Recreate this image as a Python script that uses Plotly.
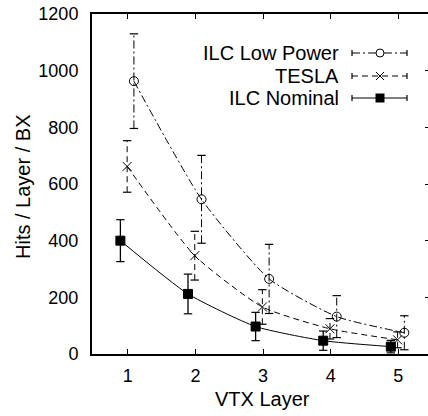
import plotly.graph_objects as go

# ---------------- data ----------------
layers = [1, 2, 3, 4, 5]
x_tick_labels = ["1", "2", "3", "4", "5"]
y_tick_values = [0, 200, 400, 600, 800, 1000, 1200]

series_names = ["ILC Low Power", "TESLA", "ILC Nominal"]
low_power = [963, 546, 265, 132, 75]
low_power_err = [167, 155, 122, 74, 60]
tesla = [662, 347, 166, 89, 50]
tesla_err = [91, 86, 61, 36, 28]
nominal = [400, 212, 97, 47, 26]
nominal_err = [74, 70, 50, 34, 22]

# ---------------- styles ----------------
W, H = 428, 416
ML, MR, MT, MB = 92, 0, 14, 62
FONT = "Liberation Sans, Arial, sans-serif"
FS_TICK = 18
FS_TEXT = 20
DASHDOT = "8px,3px,2px,3px"
DASHED = "6px,4px"

styles = {
    "ILC Low Power": dict(offset=0.09, dash=DASHDOT, symbol="circle-open", size=9, ebw=1),
    "TESLA": dict(offset=-0.01, dash=DASHED, symbol="x-thin-open", size=9, ebw=1),
    "ILC Nominal": dict(offset=-0.11, dash="solid", symbol="square", size=9, ebw=1.3),
}
values = {"ILC Low Power": (low_power, low_power_err),
          "TESLA": (tesla, tesla_err),
          "ILC Nominal": (nominal, nominal_err)}

fig = go.Figure()

for name in series_names:
    st = styles[name]
    ys, es = values[name]
    xs = [l + st["offset"] for l in layers]
    fig.add_trace(go.Scatter(x=xs, y=ys, mode="lines",
                             line=dict(color="black", width=1, dash=st["dash"],
                                       shape="spline", smoothing=0.55),
                             showlegend=False, hoverinfo="skip"))
    ex, ey = [], []
    for x, y, e in zip(xs, ys, es):
        ex += [x, x, None]
        ey += [y - e, y + e, None]
    fig.add_trace(go.Scatter(x=ex, y=ey, mode="lines",
                             line=dict(color="black", width=st["ebw"], dash=st["dash"]),
                             showlegend=False, hoverinfo="skip"))
    cx, cy = [], []
    for x, y, e in zip(xs, ys, es):
        cx += [x, x]
        cy += [y - e, y + e]
    fig.add_trace(go.Scatter(x=cx, y=cy, mode="markers",
                             marker=dict(symbol="line-ew", size=6, color="black",
                                         line=dict(color="black", width=1.2)),
                             showlegend=False, hoverinfo="skip"))
    fig.add_trace(go.Scatter(x=xs, y=ys, mode="markers", name=name,
                             marker=dict(symbol=st["symbol"], size=st["size"], color="black",
                                         line=dict(color="black", width=1)),
                             showlegend=False))

fig.add_trace(go.Scatter(x=[None], y=[None], yaxis="y2", showlegend=False, hoverinfo="skip"))

# ---------------- manual legend (text left, sample right) ----------------
PW = W - ML - MR
PH = H - MT - MB


def px(xp):
    return (xp - ML) / PW


def py(yp):
    return (H - MB - yp) / PH


shapes = []
annotations = []
row_y = [53, 76, 98]
text_right = 341
s_x0, s_x1, s_mid = 352, 407, 380
for name, yy in zip(series_names, row_y):
    st = styles[name]
    annotations.append(dict(text=name, x=px(text_right), y=py(yy), xref="paper", yref="paper",
                            xanchor="right", yanchor="middle", showarrow=False,
                            font=dict(family=FONT, size=FS_TEXT, color="black")))
    shapes.append(dict(type="line", xref="paper", yref="paper",
                       x0=px(s_x0), x1=px(s_x1), y0=py(yy), y1=py(yy),
                       line=dict(color="black", width=1, dash=st["dash"])))
    for cxp in (s_x0, s_x1):
        shapes.append(dict(type="line", xref="paper", yref="paper",
                           x0=px(cxp), x1=px(cxp), y0=py(yy - 3), y1=py(yy + 3),
                           line=dict(color="black", width=1.2)))
    if st["symbol"] == "circle-open":
        shapes.append(dict(type="circle", xref="paper", yref="paper",
                           x0=px(s_mid - 4), x1=px(s_mid + 4), y0=py(yy - 4), y1=py(yy + 4),
                           line=dict(color="black", width=1), fillcolor="white"))
    elif st["symbol"] == "square":
        shapes.append(dict(type="rect", xref="paper", yref="paper",
                           x0=px(s_mid - 4.5), x1=px(s_mid + 4.5), y0=py(yy - 4.5), y1=py(yy + 4.5),
                           line=dict(color="black", width=0), fillcolor="black"))
    else:
        for d in (1, -1):
            shapes.append(dict(type="line", xref="paper", yref="paper",
                               x0=px(s_mid - 4), x1=px(s_mid + 4),
                               y0=py(yy - 4 * d), y1=py(yy + 4 * d),
                               line=dict(color="black", width=1)))

annotations.append(dict(text="VTX Layer", x=px(262.5), y=py(399), xref="paper", yref="paper",
                        xanchor="center", yanchor="middle", showarrow=False,
                        font=dict(family=FONT, size=FS_TEXT, color="black")))
annotations.append(dict(text="Hits / Layer / BX", x=px(23), y=py(187), xref="paper", yref="paper",
                        xanchor="center", yanchor="middle", showarrow=False, textangle=-90,
                        font=dict(family=FONT, size=FS_TEXT, color="black")))

fig.update_layout(
    width=W, height=H,
    margin=dict(l=ML, r=MR, t=MT, b=MB, pad=0),
    paper_bgcolor="white", plot_bgcolor="white",
    font=dict(family=FONT, size=FS_TICK, color="black"),
    shapes=shapes, annotations=annotations,
    showlegend=False,
    xaxis=dict(range=[0.47, 5.44], tickvals=layers, ticktext=x_tick_labels,
               ticks="inside", ticklen=5, tickwidth=1, tickcolor="black",
               showline=True, linecolor="black", linewidth=2, mirror="ticks",
               showgrid=False, zeroline=False, ticklabelstandoff=4,
               tickfont=dict(family=FONT, size=FS_TICK, color="black")),
    yaxis=dict(range=[0, 1200], tickvals=y_tick_values,
               ticks="", showline=True, linecolor="black", linewidth=2,
               showgrid=False, zeroline=False, ticklabelstandoff=8,
               tickfont=dict(family=FONT, size=FS_TICK, color="black")),
    yaxis2=dict(range=[0, 1200], tickvals=y_tick_values, overlaying="y", side="right",
                ticks="inside", ticklen=3, tickwidth=1, tickcolor="black",
                showticklabels=False, showline=False, showgrid=False, zeroline=False),
)

fig.write_html("out.html", config={"displayModeBar": False},
               post_script="document.body.style.margin='0px';document.body.style.overflow='hidden';")
